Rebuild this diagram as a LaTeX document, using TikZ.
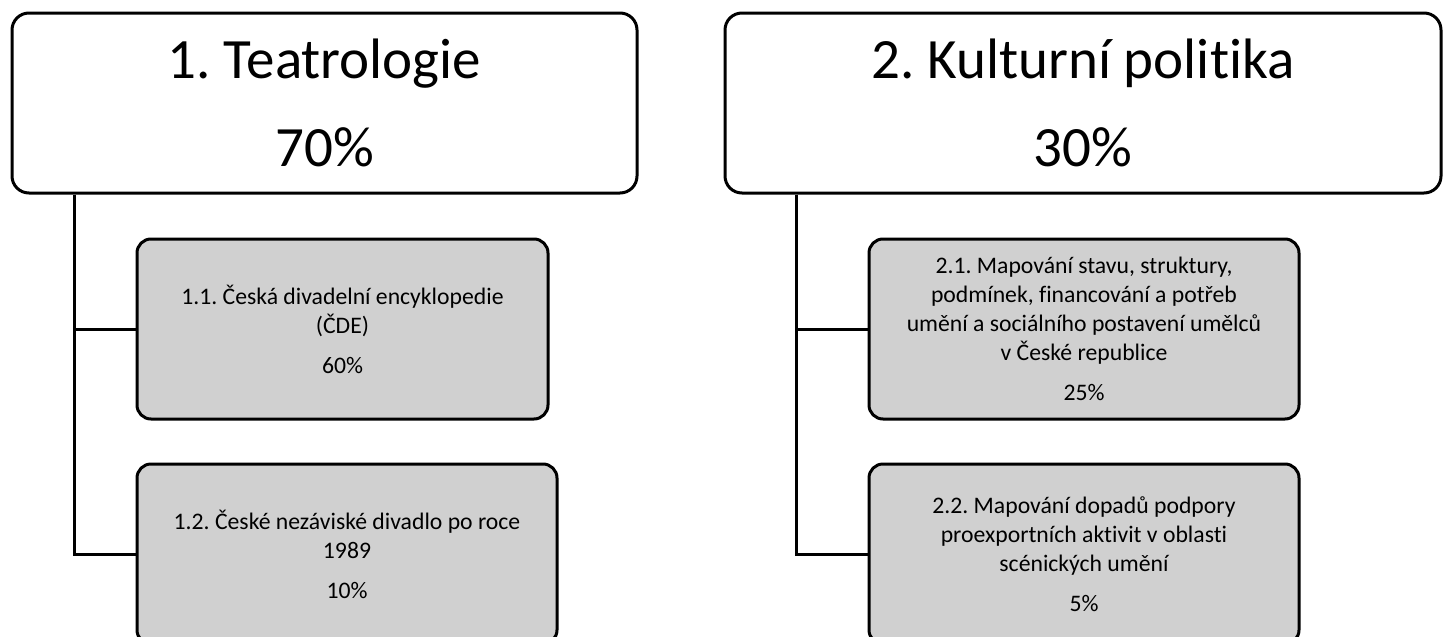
\documentclass[tikz,border=0pt]{standalone}
\usepackage{fontspec}
\setmainfont{Carlito}[Ligatures=NoCommon]
\frenchspacing
\usetikzlibrary{positioning}
\definecolor{subgray}{RGB}{208,208,208}
\tikzset{
  mainbox/.style={draw, rounded corners=17pt, line width=3pt, fill=white,
    minimum height=180pt, inner sep=0pt, align=center,
    font=\fontsize{57}{88}\selectfont},
  subbox/.style={draw, rounded corners=14pt, line width=3pt, fill=subgray,
    minimum height=180pt, inner sep=0pt, align=center,
    font=\fontsize{23.7}{29}\selectfont},
  link/.style={line width=3pt}
}
\begin{document}
\begin{tikzpicture}[x=1pt,y=-1pt]
  \useasboundingbox (0,0) rectangle (1443,637);
  \clip (0,0) rectangle (1443,637);
  % left branch
  \node[mainbox, minimum width=625pt] (teat) at (324.5,103) {1. Teatrologie\\70\%};
  \node[subbox, minimum width=411pt] (cde) at (342.5,329)
    {1.1. Česká divadelní encyklopedie\\(ČDE)\\[11pt]60\%};
  \node[subbox, minimum width=420pt] (nez) at (347,554)
    {1.2. České nezáviské divadlo po roce\\1989\\[11pt]10\%};
  \coordinate (trunkA) at (74,0);
  \draw[link] (teat.south -| trunkA) |- (cde.west);
  \draw[link] (teat.south -| trunkA) |- (nez.west);
  % right branch
  \node[mainbox, minimum width=716pt] (kult) at (1083,103) {2. Kulturní politika\\30\%};
  \node[subbox, minimum width=430pt] (mapa) at (1084,329)
    {2.1. Mapování stavu, struktury,\\podmínek, financování a potřeb\\umění a sociálního postavení umělců\\v České republice\\[11pt]25\%};
  \node[subbox, minimum width=430pt] (mapb) at (1084,554)
    {2.2. Mapování dopadů podpory\\proexportních aktivit v oblasti\\scénických umění\\[11pt]5\%};
  \coordinate (trunkB) at (796,0);
  \draw[link] (kult.south -| trunkB) |- (mapa.west);
  \draw[link] (kult.south -| trunkB) |- (mapb.west);
\end{tikzpicture}
\end{document}
